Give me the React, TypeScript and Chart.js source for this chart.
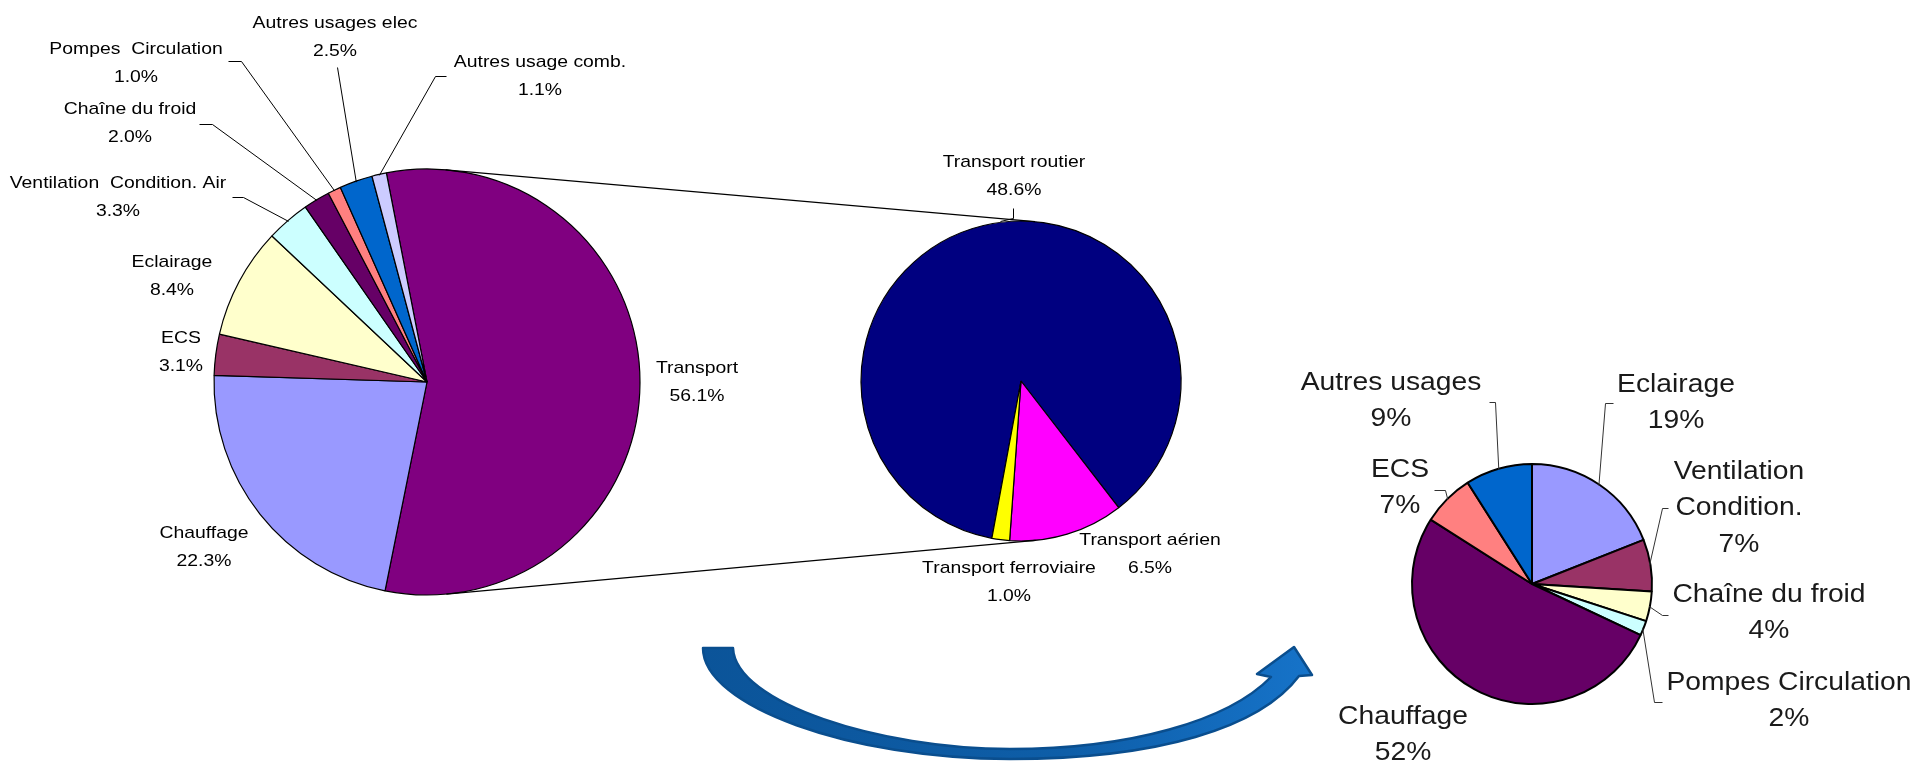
import React, { useEffect, useRef } from 'react';
import { Chart, registerables } from 'chart.js';

Chart.register(...registerables);

const W = 1917;
const H = 764;

// ---------------- DATA ----------------
const mainCategories = [
  'Transport',
  'Chauffage',
  'ECS',
  'Eclairage',
  'Ventilation  Condition. Air',
  'Chaîne du froid',
  'Pompes  Circulation',
  'Autres usages elec',
  'Autres usage comb.',
];
const mainValues = [56.1, 22.3, 3.1, 8.4, 3.3, 2.0, 1.0, 2.5, 1.1];

const transportCategories = ['Transport routier', 'Transport aérien', 'Transport ferroviaire'];
const transportValues = [48.6, 6.5, 1.0];

const residentialCategories = [
  'Eclairage',
  'Ventilation\nCondition.',
  'Chaîne du froid',
  'Pompes Circulation',
  'Chauffage',
  'ECS',
  'Autres usages',
];
const residentialValues = [19, 7, 4, 2, 52, 7, 9];

// ---------------- STYLE ----------------
const mainColors = ['#800080', '#9999FF', '#993366', '#FFFFCC', '#CCFFFF', '#660066', '#FF8080', '#0066CC', '#CCCCFF'];
const transportColors = ['#000080', '#FF00FF', '#FFFF00'];
const residentialColors = ['#9999FF', '#993366', '#FFFFCC', '#CCFFFF', '#660066', '#FF8080', '#0066CC'];

// ---------------- LAYOUT ----------------
type Pt = [number, number];
interface LabelLayout { x: number; y: number; leader?: Pt[]; edge?: boolean }
interface PieLayout { cx: number; cy: number; r: number; rotation: number; border: number }

const mainPie: PieLayout = { cx: 427, cy: 382, r: 213, rotation: -11, border: 1.2 };
const transportPie: PieLayout = { cx: 1021, cy: 381, r: 160, rotation: -169.5, border: 1.2 };
const residentialPie: PieLayout = { cx: 1532, cy: 584, r: 120, rotation: 0, border: 2 };

const mainLabelLayout: LabelLayout[] = [
  { x: 697, y: 368 },
  { x: 204, y: 533 },
  { x: 181, y: 338 },
  { x: 172, y: 262 },
  { x: 118, y: 183, leader: [[232, 197], [243, 197]], edge: true },
  { x: 130, y: 109, leader: [[199, 124], [212, 124]], edge: true },
  { x: 136, y: 49, leader: [[228, 61], [241, 61]], edge: true },
  { x: 335, y: 23, leader: [[337, 67]], edge: true },
  { x: 540, y: 62, leader: [[446, 76], [435, 76]], edge: true },
];

const transportLabelLayout: LabelLayout[] = [
  { x: 1014, y: 162, leader: [[1013, 208], [1013, 218], [1000, 221]] },
  { x: 1150, y: 540 },
  { x: 1009, y: 568 },
];

const residentialLabelLayout: LabelLayout[] = [
  { x: 1676, y: 385, leader: [[1613, 403], [1605, 403]], edge: true },
  { x: 1739, y: 472, leader: [[1668, 508], [1662, 508]], edge: true },
  { x: 1769, y: 595, leader: [[1668, 615], [1662, 615]], edge: true },
  { x: 1789, y: 683, leader: [[1662, 702], [1654, 702]], edge: true },
  { x: 1403, y: 717 },
  { x: 1400, y: 470, leader: [[1434, 490], [1445, 490]], edge: true },
  { x: 1391, y: 383, leader: [[1489, 402], [1495, 402]], edge: true },
];

const SMALL_FONT = '17px "Liberation Sans", Arial, sans-serif';
const BIG_FONT = '25px "Liberation Sans", Arial, sans-serif';

function paddingFor(p: PieLayout) {
  return {
    left: p.cx - p.r - 1,
    right: W - (p.cx + p.r + 1),
    top: p.cy - p.r - 1,
    bottom: H - (p.cy + p.r + 1),
  };
}

function drawText(ctx: CanvasRenderingContext2D, text: string, x: number, y: number, font: string, sx: number, color: string) {
  ctx.save();
  ctx.font = font;
  ctx.fillStyle = color;
  ctx.textAlign = 'center';
  ctx.textBaseline = 'middle';
  ctx.translate(x, y);
  ctx.scale(sx, 1);
  ctx.fillText(text, 0, 0);
  ctx.restore();
}

function makeLabelPlugin(
  id: string,
  lines: string[][],
  layout: LabelLayout[],
  font: string,
  sx: number,
  lineH: number,
  color: string,
  leaderColor: string,
) {
  return {
    id,
    afterDatasetsDraw(chart: any) {
      const ctx: CanvasRenderingContext2D = chart.ctx;
      const meta = chart.getDatasetMeta(0);
      layout.forEach((lay, i) => {
        const arc: any = meta.data[i];
        if (lay.leader) {
          ctx.save();
          ctx.strokeStyle = leaderColor;
          ctx.lineWidth = 1;
          ctx.beginPath();
          lay.leader.forEach((p, k) => {
            if (k === 0) ctx.moveTo(p[0] + 0.5, p[1] + 0.5);
            else ctx.lineTo(p[0] + 0.5, p[1] + 0.5);
          });
          if (lay.edge && arc) {
            const mid = (arc.startAngle + arc.endAngle) / 2;
            const R = arc.outerRadius - 1;
            ctx.lineTo(arc.x + Math.cos(mid) * R, arc.y + Math.sin(mid) * R);
          }
          ctx.stroke();
          ctx.restore();
        }
        lines[i].forEach((t, k) => drawText(ctx, t, lay.x, lay.y + k * lineH, font, sx, color));
      });
    },
  };
}

function tangentPoints(c1: any, c2: any, sign: number) {
  const dx = c2.x - c1.x;
  const dy = c2.y - c1.y;
  const D = Math.hypot(dx, dy);
  const base = Math.atan2(dy, dx);
  const alpha = Math.acos((c1.outerRadius - c2.outerRadius) / D);
  const a = base + sign * alpha;
  const nx = Math.cos(a);
  const ny = Math.sin(a);
  return [
    [c1.x + nx * c1.outerRadius, c1.y + ny * c1.outerRadius],
    [c2.x + nx * c2.outerRadius, c2.y + ny * c2.outerRadius],
  ];
}

function drawArrow(ctx: CanvasRenderingContext2D) {
  ctx.save();
  const g = ctx.createLinearGradient(700, 0, 1312, 0);
  g.addColorStop(0, '#0B5499');
  g.addColorStop(0.6, '#0E5EA8');
  g.addColorStop(1, '#1673C9');
  ctx.fillStyle = g;
  ctx.strokeStyle = '#0A4E8E';
  ctx.lineWidth = 2.5;
  ctx.lineJoin = 'round';
  ctx.beginPath();
  ctx.moveTo(703, 648);
  ctx.bezierCurveTo(703, 706, 850, 759, 1010, 759);
  ctx.bezierCurveTo(1158, 759, 1260, 728, 1299, 676);
  ctx.lineTo(1312, 675);
  ctx.lineTo(1294, 647);
  ctx.lineTo(1257, 674);
  ctx.lineTo(1271, 677);
  ctx.bezierCurveTo(1228, 721, 1130, 749, 1010, 749);
  ctx.bezierCurveTo(880, 749, 735, 703, 733, 648);
  ctx.closePath();
  ctx.fill();
  ctx.stroke();
  ctx.restore();
}

function pieConfig(p: PieLayout, labels: string[], values: number[], colors: string[], borderColor: string, plugins: any[]) {
  return {
    type: 'pie' as const,
    data: {
      labels,
      datasets: [
        {
          data: values,
          backgroundColor: colors,
          borderColor,
          borderWidth: p.border,
        },
      ],
    },
    options: {
      responsive: false,
      maintainAspectRatio: false,
      devicePixelRatio: 1,
      animation: false as const,
      rotation: p.rotation,
      radius: p.r,
      layout: { padding: paddingFor(p) },
      plugins: { legend: { display: false }, tooltip: { enabled: false } },
      events: [] as any[],
    },
    plugins,
  };
}

export default function App() {
  const c1 = useRef<HTMLCanvasElement>(null);
  const c2 = useRef<HTMLCanvasElement>(null);
  const c3 = useRef<HTMLCanvasElement>(null);

  useEffect(() => {
    document.body.style.margin = '0';
    const mainLines = mainCategories.map((n, i) => [n, mainValues[i].toFixed(1) + '%']);
    const transportLines = transportCategories.map((n, i) => [n, transportValues[i].toFixed(1) + '%']);
    const resLines = residentialCategories.map((n, i) => [...n.split('\n'), residentialValues[i] + '%']);

    const left = new Chart(
      c1.current!,
      pieConfig(mainPie, mainCategories, mainValues, mainColors, '#000', [
        makeLabelPlugin('mainLabels', mainLines, mainLabelLayout, SMALL_FONT, 1.14, 28.5, '#000', '#000'),
      ]) as any,
    );

    const connectorPlugin = {
      id: 'connectors',
      afterDatasetsDraw(chart: any) {
        const a: any = left.getDatasetMeta(0).data[0];
        const b: any = chart.getDatasetMeta(0).data[0];
        if (!a || !b) return;
        const ctx: CanvasRenderingContext2D = chart.ctx;
        ctx.save();
        ctx.strokeStyle = '#000';
        ctx.lineWidth = 1.2;
        [-1, 1].forEach((s) => {
          const [p, q] = tangentPoints(a, b, s);
          ctx.beginPath();
          ctx.moveTo(p[0], p[1]);
          ctx.lineTo(q[0], q[1]);
          ctx.stroke();
        });
        ctx.restore();
      },
    };

    const mid = new Chart(
      c2.current!,
      pieConfig(transportPie, transportCategories, transportValues, transportColors, '#000', [
        connectorPlugin,
        makeLabelPlugin('transportLabels', transportLines, transportLabelLayout, SMALL_FONT, 1.14, 28, '#000', '#000'),
      ]) as any,
    );

    const arrowPlugin = {
      id: 'arrow',
      afterDraw(chart: any) {
        drawArrow(chart.ctx);
      },
    };

    const right = new Chart(
      c3.current!,
      pieConfig(residentialPie, residentialCategories, residentialValues, residentialColors, '#000', [
        makeLabelPlugin('resLabels', resLines, residentialLabelLayout, BIG_FONT, 1.13, 36.5, '#1a1a1a', '#333'),
        arrowPlugin,
      ]) as any,
    );

    return () => {
      left.destroy();
      mid.destroy();
      right.destroy();
    };
  }, []);

  const cs: React.CSSProperties = { position: 'absolute', left: 0, top: 0, width: W, height: H };
  return (
    <div style={{ position: 'absolute', left: 0, top: 0, width: W, height: H, overflow: 'hidden', background: '#fff' }}>
      <canvas ref={c1} width={W} height={H} style={cs} />
      <canvas ref={c2} width={W} height={H} style={cs} />
      <canvas ref={c3} width={W} height={H} style={cs} />
    </div>
  );
}
